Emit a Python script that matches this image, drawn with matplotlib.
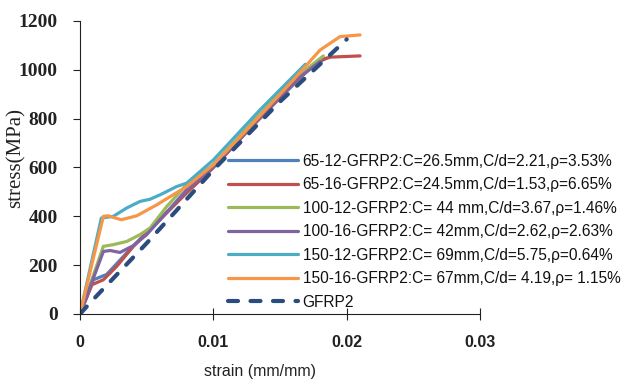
import matplotlib
matplotlib.use("Agg")
import matplotlib.pyplot as plt

# stress-strain curves (strain mm/mm, stress MPa)
s65_12_x = [0, 0.001, 0.002, 0.0035, 0.005, 0.0075, 0.01, 0.0125, 0.015, 0.0175, 0.0185]
s65_12_y = [0, 140, 162, 250, 335, 470, 600, 745, 885, 1020, 1048]

s65_16_x = [0, 0.0009, 0.00175, 0.00275, 0.004, 0.006, 0.008, 0.01, 0.013, 0.016, 0.018, 0.0188, 0.021]
s65_16_y = [0, 120, 140, 195, 277, 386, 497, 600, 775, 945, 1040, 1052, 1057]

s100_12_x = [0, 0.00175, 0.0025, 0.0035, 0.0045, 0.00525, 0.0065, 0.008, 0.01, 0.013, 0.016, 0.01825]
s100_12_y = [0, 277, 284, 297, 325, 352, 440, 530, 611, 790, 960, 1057]

s100_16_x = [0, 0.00175, 0.00225, 0.003, 0.004, 0.005, 0.006, 0.008, 0.01, 0.013, 0.016, 0.018]
s100_16_y = [0, 256, 260, 252, 280, 325, 386, 509, 604, 780, 950, 1034]

s150_12_x = [0, 0.0016, 0.0025, 0.0035, 0.0045, 0.00525, 0.006, 0.00725, 0.008, 0.01, 0.0135, 0.0169]
s150_12_y = [0, 393, 400, 434, 461, 470, 488, 522, 536, 631, 836, 1023]

s150_16_x = [0, 0.00175, 0.0021, 0.0031, 0.00425, 0.00575, 0.008, 0.01, 0.0125, 0.016, 0.018, 0.0195, 0.021]
s150_16_y = [0, 400, 402, 386, 402, 447, 522, 611, 754, 959, 1081, 1136, 1143]

gfrp_x = [0, 0.001, 0.005, 0.01, 0.015, 0.02]
gfrp_y = [0, 60, 290, 590, 870, 1125]

labels = [
    "65-12-GFRP2:C=26.5mm,C/d=2.21,\u03c1=3.53%",
    "65-16-GFRP2:C=24.5mm,C/d=1.53,\u03c1=6.65%",
    "100-12-GFRP2:C= 44 mm,C/d=3.67,\u03c1=1.46%",
    "100-16-GFRP2:C= 42mm,C/d=2.62,\u03c1=2.63%",
    "150-12-GFRP2:C= 69mm,C/d=5.75,\u03c1=0.64%",
    "150-16-GFRP2:C= 67mm,C/d= 4.19,\u03c1= 1.15%",
    "GFRP2",
]
colors = ["#4F81BD", "#C0504D", "#9BBB59", "#8064A2", "#4BACC6", "#F79646"]

sans = ["Liberation Sans", "DejaVu Sans"]
serif = ["Liberation Serif", "DejaVu Serif"]

fig = plt.figure(figsize=(6.32, 3.81), dpi=100)
ax = fig.add_axes([0.1266, 0.1759, 0.633, 0.769])

curves = [(s65_12_x, s65_12_y), (s65_16_x, s65_16_y), (s100_12_x, s100_12_y),
          (s100_16_x, s100_16_y), (s150_12_x, s150_12_y), (s150_16_x, s150_16_y)]
for (x, y), c, lab in zip(curves, colors, labels):
    ax.plot(x, y, color=c, lw=2.3, label=lab, solid_capstyle="round")
ax.plot(gfrp_x, gfrp_y, color="#2B4C7E", lw=3, dashes=(2.4, 3.0),
        dash_capstyle="round", label=labels[6])

ax.set_xlim(0, 0.03)
ax.set_ylim(0, 1200)
ax.set_xticks([0, 0.01, 0.02, 0.03])
ax.set_xticklabels(["0", "0.01", "0.02", "0.03"], family=sans, fontsize=11.5, fontweight="bold")
ax.set_yticks(range(0, 1201, 200))
ax.set_yticklabels([str(v) for v in range(0, 1201, 200)], family=serif, fontsize=14, fontweight="bold")
ax.tick_params(axis="x", direction="inout", length=8, pad=11, color="#222222", labelcolor="#222222")
ax.tick_params(axis="y", direction="out", length=5, pad=11, color="#222222", labelcolor="#222222")
for side in ["top", "right"]:
    ax.spines[side].set_visible(False)
for side in ["left", "bottom"]:
    ax.spines[side].set_color("#222222")

ax.set_xlabel("strain (mm/mm)", family=sans, fontsize=11.5, color="#222222")
ax.xaxis.set_label_coords(0.45, -0.17)
ax.set_ylabel("stress(MPa)", family=serif, fontsize=15, color="#222222")
ax.yaxis.set_label_coords(-0.135, 0.532)

ax.legend(loc="upper left", bbox_to_anchor=(0.36, 0.597), bbox_transform=fig.transFigure,
          frameon=False, prop={"family": sans, "size": 11.2},
          handlelength=4.5, handletextpad=0.33, labelspacing=0.55, borderpad=0, borderaxespad=0,
          labelcolor="#111111")

fig.savefig("out.png", dpi=100)
